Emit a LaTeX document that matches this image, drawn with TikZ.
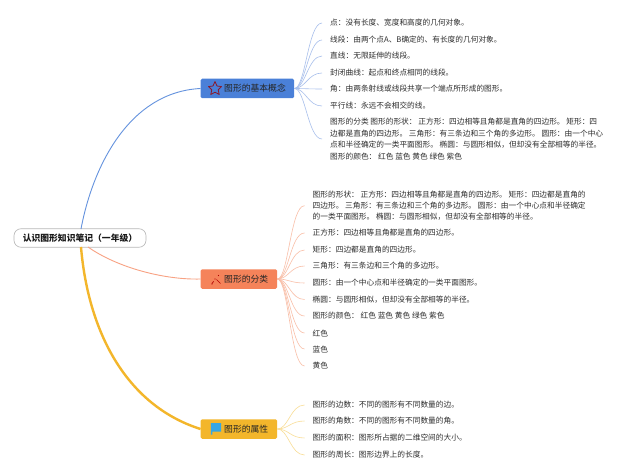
\documentclass[tikz,border=0pt]{standalone}
\usepackage{fontspec}
\setmainfont{Noto Sans CJK SC}
\usetikzlibrary{shapes.geometric,calc}
\definecolor{cblue}{HTML}{4A80D8}
\definecolor{corange}{HTML}{F5835A}
\definecolor{cyellow}{HTML}{F3B62B}
\definecolor{lblue}{HTML}{A9C0EC}
\definecolor{lorange}{HTML}{F9BFA8}
\definecolor{lyellow}{HTML}{F9DD96}
\definecolor{ink}{HTML}{2E2E2E}
\tikzset{
  leaf/.style={anchor=west,align=left,inner xsep=8pt,inner ysep=0pt,text=ink,font=\fontsize{7.7}{11.4}\selectfont},
  topicbox/.style={anchor=west,rounded corners=1.5pt,minimum height=19.5pt,inner ysep=0pt,inner xsep=0pt},
  topictext/.style={text=black!85,font=\fontsize{8.8}{10}\selectfont,anchor=west,inner sep=0pt},
  rootbox/.style={draw=black!28,line width=0.6pt,rounded corners=7pt,fill=white,minimum width=132pt,minimum height=18.5pt,inner sep=0pt,text=black!90,font=\fontsize{8.8}{10}\selectfont\bfseries},
  lb/.style={draw=lblue,line width=0.6pt},
  lo/.style={draw=lorange,line width=0.6pt},
  ly/.style={draw=lyellow,line width=0.6pt}
}
\newcommand{\fan}[3]{\draw[#1] (#2.east) .. controls +(11pt,0pt) and ($(#3.west)+(-14pt,0pt)$) .. (#3.west);}
\begin{document}
\begin{tikzpicture}[x=1pt,y=-1pt]
\useasboundingbox[fill=white] (0,0) rectangle (640,476);
% topics
\node[topicbox,fill=cblue,minimum width=93.5pt] (t1) at (200.5,88.5) {};
\node[topicbox,fill=corange,minimum width=76.5pt] (t2) at (200.5,279) {};
\node[topicbox,fill=cyellow,minimum width=76.5pt] (t3) at (200.5,429) {};
\node[topictext] (t1t) at (224,88.5) {图形的基本概念};
\node[topictext] (t2t) at (224,279) {图形的分类};
\node[topictext] (t3t) at (224,429) {图形的属性};
\node[rootbox] (root) at (80,238) {认识图形知识笔记（一年级）};
% main branches
\draw[draw=cblue!85,line width=0.9pt] (81,229) .. controls (93,165) and (130,92) .. (t1.west);
\draw[draw=corange!75,line width=0.9pt] (88,247) .. controls (118,268) and (165,280) .. (t2.west);
\draw[draw=cyellow,line width=2.4pt] (81,247) .. controls (88,330) and (125,405) .. (t3.west);
% leaves 1
\node[leaf] (a1) at (322,23) {点：没有长度、宽度和高度的几何对象。};
\node[leaf] (a2) at (322,40) {线段：由两个点A、B确定的、有长度的几何对象。};
\node[leaf] (a3) at (322,56) {直线：无限延伸的线段。};
\node[leaf] (a4) at (322,73) {封闭曲线：起点和终点相同的线段。};
\node[leaf] (a5) at (322,89) {角：由两条射线或线段共享一个端点所形成的图形。};
\node[leaf] (a6) at (322,106) {平行线：永远不会相交的线。};
\node[leaf] (a7) at (322,139) {图形的分类 图形的形状： 正方形：四边相等且角都是直角的四边形。 矩形：四\\边都是直角的四边形。 三角形：有三条边和三个角的多边形。 圆形：由一个中心\\点和半径确定的一类平面图形。 椭圆：与圆形相似，但却没有全部相等的半径。\\图形的颜色： 红色 蓝色 黄色 绿色 紫色};
\foreach \n in {a1,a2,a3,a4,a5,a6,a7} {\fan{lb}{t1}{\n}}
% leaves 2
\node[leaf] (b1) at (304.5,205.7) {图形的形状： 正方形：四边相等且角都是直角的四边形。 矩形：四边都是直角的\\四边形。 三角形：有三条边和三个角的多边形。 圆形：由一个中心点和半径确定\\的一类平面图形。 椭圆：与圆形相似，但却没有全部相等的半径。};
\node[leaf] (b2) at (304.5,233) {正方形：四边相等且角都是直角的四边形。};
\node[leaf] (b3) at (304.5,250) {矩形：四边都是直角的四边形。};
\node[leaf] (b4) at (304.5,266) {三角形：有三条边和三个角的多边形。};
\node[leaf] (b5) at (304.5,283) {圆形：由一个中心点和半径确定的一类平面图形。};
\node[leaf] (b6) at (304.5,299.5) {椭圆：与圆形相似，但却没有全部相等的半径。};
\node[leaf] (b7) at (304.5,316) {图形的颜色： 红色 蓝色 黄色 绿色 紫色};
\node[leaf] (b8) at (304.5,333) {红色};
\node[leaf] (b9) at (304.5,349) {蓝色};
\node[leaf] (b10) at (304.5,366) {黄色};
\foreach \n in {b1,b2,b3,b4,b5,b6,b7,b8,b9,b10} {\fan{lo}{t2}{\n}}
% leaves 3
\node[leaf] (c1) at (304.5,405) {图形的边数：不同的图形有不同数量的边。};
\node[leaf] (c2) at (304.5,421) {图形的角数：不同的图形有不同数量的角。};
\node[leaf] (c3) at (304.5,438) {图形的面积：图形所占据的二维空间的大小。};
\node[leaf] (c4) at (304.5,455) {图形的周长：图形边界上的长度。};
\foreach \n in {c1,c2,c3,c4} {\fan{ly}{t3}{\n}}
% icons
\draw[draw=red!60!black!80!cblue,line width=0.8pt,line join=round] (215,81.5) -- (217,86) -- (221.5,86.6) -- (218.2,89.8) -- (219.2,94.5) -- (215,92.2) -- (210.8,94.5) -- (211.8,89.8) -- (208.5,86.6) -- (213,86) -- cycle;
\draw[draw=red!70!black,line width=0.7pt,line cap=round] (216.5,279.5) -- (220.5,283.5);
\draw[draw=red!70!black,line width=0.7pt,line cap=round] (213.5,281.5) -- (212,283.5);
\fill[red!70!black] (218.5,275.5) circle (0.7);
\fill[red!70!black] (215,279) circle (0.6);
\fill[red!70!black] (212,284) circle (0.6);
\fill[cblue!70!cyan] (210.8,423) -- (221,423) -- (221,431.5) -- (212.3,431.5) -- (212.3,434.5) -- (210.8,434.5) -- cycle;
\end{tikzpicture}
\end{document}
